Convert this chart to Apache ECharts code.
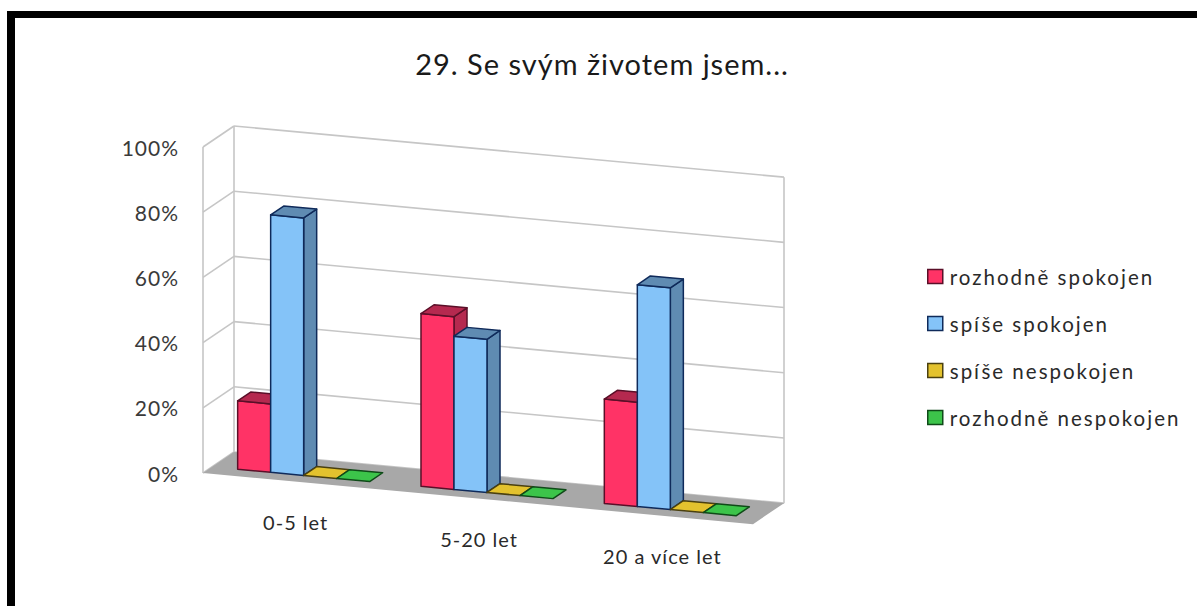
<!DOCTYPE html>
<html><head><meta charset="utf-8">
<style>html,body{margin:0;padding:0;background:#fff}#c{width:1197px;height:606px}text{letter-spacing:1px}text[style*="20.5px"]{letter-spacing:2px}</style>
<script src="https://cdn.jsdelivr.net/npm/echarts@6/dist/echarts.min.js"></script>
</head><body><div id="c"></div>
<script>
const titleText = '29. Se svým životem jsem...';
const categories = ['0-5 let', '5-20 let', '20 a více let'];
const seriesNames = ['rozhodně spokojen', 'spíše spokojen', 'spíše nespokojen', 'rozhodně nespokojen'];
const rozhodneSpokojen = [21, 53, 32];
const spiseSpokojen = [79, 47, 68];
const spiseNespokojen = [0, 0, 0];
const rozhodneNespokojen = [0, 0, 0];
const seriesValues = [rozhodneSpokojen, spiseSpokojen, spiseNespokojen, rozhodneNespokojen];
const yTicks = [0, 20, 40, 60, 80, 100];
const faceColors = ['#FF3366', '#84C3F8', '#E3C22E', '#3CC44A'];
const sideColors = ['#B5294F', '#5F8BB2', '#B89C22', '#2E9A3A'];
const edgeColors = ['#5A0F28', '#0F2A5A', '#4A4010', '#0F4A18'];

const slope = 0.093, depthX = 31, depthY = -21;
const barW = 0.18, barStartOffset = -0.36, depthFront = 0.29, depthBack = 0.71;

function project(api, catPos, val, d) {
  const c = api.coord([0, val]);
  const band = api.size([1, 0])[0];
  const x = c[0] + catPos * band;
  const left = c[0] - band / 2;
  return [x + d * depthX, c[1] + slope * (x - left) + d * depthY];
}
function poly(points, fill, stroke, lw) {
  return { type: 'polygon', shape: { points }, style: { fill, stroke, lineWidth: lw, lineJoin: 'round' } };
}
function line(a, b) {
  return { type: 'line', shape: { x1: a[0], y1: a[1], x2: b[0], y2: b[1] }, style: { stroke: '#C6C6C6', lineWidth: 1.6, fill: null } };
}
function renderWalls(params, api) {
  const L = -0.5, R = categories.length - 0.5;
  const children = [];
  children.push(poly([project(api, L, 0, 1), project(api, R, 0, 1), project(api, R, 100, 1), project(api, L, 100, 1)], '#fff', 'none', 0));
  yTicks.forEach(t => {
    children.push(line(project(api, L, t, 0), project(api, L, t, 1)));
    children.push(line(project(api, L, t, 1), project(api, R, t, 1)));
  });
  children.push(line(project(api, L, 0, 0), project(api, L, 100, 0)));
  children.push(line(project(api, L, 0, 1), project(api, L, 100, 1)));
  children.push(line(project(api, R, 0, 1), project(api, R, 100, 1)));
  children.push(poly([project(api, L, 0, 0), project(api, R, 0, 0), project(api, R, 0, 1), project(api, L, 0, 1)], '#A8A8A8', 'none', 0));
  return { type: 'group', children };
}
function makeBarRenderer(si) {
  return function (params, api) {
    const cat = api.value(0), v = api.value(1);
    const x0 = cat + barStartOffset + si * barW, x1 = x0 + barW;
    const f = faceColors[si], s = sideColors[si], e = edgeColors[si];
    const children = [];
    if (v > 0) {
      children.push(poly([project(api, x1, 0, depthFront), project(api, x1, 0, depthBack), project(api, x1, v, depthBack), project(api, x1, v, depthFront)], s, e, 1.5));
      children.push(poly([project(api, x0, 0, depthFront), project(api, x1, 0, depthFront), project(api, x1, v, depthFront), project(api, x0, v, depthFront)], f, e, 1.5));
    }
    children.push(poly([project(api, x0, v, depthFront), project(api, x1, v, depthFront), project(api, x1, v, depthBack), project(api, x0, v, depthBack)], v > 0 ? s : f, e, 1.5));
    return { type: 'group', children };
  };
}
function renderCatLabel(params, api) {
  const p = project(api, api.value(0), 0, 0);
  return { type: 'text', x: p[0] + 1, y: p[1] + 40,
    style: { text: categories[api.value(0)], fill: '#2a2a2a', font: '20px Lato', align: 'center', verticalAlign: 'middle' } };
}

const series = [{ type: 'custom', name: 'walls', silent: true, renderItem: renderWalls, data: [[0, 0]], encode: { x: 0, y: 1 }, z: 1 }];
seriesNames.forEach((name, si) => {
  series.push({ type: 'custom', name, renderItem: makeBarRenderer(si), z: 2 + si, encode: { x: 0, y: 1 },
    itemStyle: { color: faceColors[si] },
    data: seriesValues[si].map((v, i) => [i, v]) });
});
series.push({ type: 'custom', name: 'labels', silent: true, renderItem: renderCatLabel, z: 9, encode: { x: 0, y: 1 },
  data: categories.map((c, i) => [i, 0]) });

const chart = echarts.init(document.getElementById('c'), null, { renderer: 'svg' });
chart.setOption({
  animation: false,
  backgroundColor: '#fff',
  title: { text: titleText, left: 597, top: 44, textAlign: 'center',
    textStyle: { fontFamily: 'Lato', fontSize: 29, fontWeight: 'normal', color: '#1a1a1a' } },
  grid: { left: 203, top: 147, width: 550, height: 326 },
  xAxis: { type: 'category', data: categories, show: false },
  yAxis: { type: 'value', min: 0, max: 100, interval: 20,
    axisLine: { show: false }, axisTick: { show: false }, splitLine: { show: false },
    axisLabel: { formatter: '{value}%', margin: 24, fontFamily: 'Lato', fontSize: 21, color: '#3a3a3a', padding: [3, 0, 0, 0] } },
  legend: { orient: 'vertical', left: 922, top: 261, itemWidth: 15, itemHeight: 14, itemGap: 26, icon: 'rect',
    selectedMode: false,
    textStyle: { fontFamily: 'Lato', fontSize: 20.5, color: '#2a2a2a', padding: [0, 0, 0, 2] },
    data: seriesNames.map((name, si) => ({ name, itemStyle: { color: faceColors[si], borderColor: edgeColors[si], borderWidth: 1.5 } })) },
  graphic: [
    { type: 'rect', shape: { x: 7, y: 11, width: 8, height: 595 }, style: { fill: '#000' }, silent: true },
    { type: 'rect', shape: { x: 7, y: 11, width: 1190, height: 7 }, style: { fill: '#000' }, silent: true }
  ],
  series
});
</script></body></html>
